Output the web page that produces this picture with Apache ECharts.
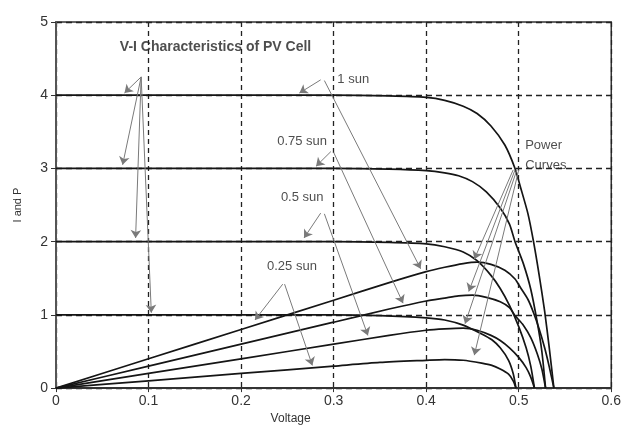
<!DOCTYPE html>
<html>
<head>
<meta charset="utf-8">
<script src="https://cdn.jsdelivr.net/npm/echarts@6/dist/echarts.min.js"></script>
<style>
  html, body { margin: 0; padding: 0; background: #fff; }
  #chart { width: 624px; height: 430px; }
</style>
</head>
<body>
<div id="chart"></div>
<script>
  // V-I curves and power curves
  var v100 = [0, 0.1, 0.2, 0.3, 0.36, 0.4, 0.42, 0.44, 0.455, 0.47, 0.485, 0.496, 0.502, 0.51, 0.516, 0.522, 0.528, 0.533, 0.538];
  var i100 = [4, 4, 4, 4, 3.99, 3.97, 3.93, 3.85, 3.75, 3.58, 3.32, 3.0, 2.74, 2.38, 2.0, 1.55, 1.05, 0.55, 0];
  var p100 = [0, 0.4, 0.8, 1.2, 1.44, 1.59, 1.65, 1.70, 1.72, 1.69, 1.61, 1.49, 1.37, 1.21, 1.03, 0.81, 0.55, 0.29, 0];

  var v75 = [0, 0.1, 0.2, 0.3, 0.36, 0.4, 0.42, 0.435, 0.45, 0.465, 0.48, 0.49, 0.496, 0.505, 0.513, 0.52, 0.525, 0.529];
  var i75 = [3, 3, 3, 3, 2.99, 2.97, 2.94, 2.9, 2.82, 2.68, 2.46, 2.24, 2.0, 1.7, 1.35, 0.9, 0.5, 0];
  var p75 = [0, 0.3, 0.6, 0.9, 1.08, 1.19, 1.23, 1.26, 1.27, 1.24, 1.18, 1.10, 0.99, 0.86, 0.69, 0.47, 0.26, 0];

  var v50 = [0, 0.1, 0.2, 0.3, 0.36, 0.4, 0.42, 0.44, 0.455, 0.47, 0.48, 0.49, 0.5, 0.508, 0.513, 0.517];
  var i50 = [2, 2, 2, 2, 1.99, 1.97, 1.93, 1.86, 1.74, 1.54, 1.36, 1.13, 0.84, 0.55, 0.3, 0];
  var p50 = [0, 0.2, 0.4, 0.6, 0.72, 0.79, 0.81, 0.82, 0.79, 0.72, 0.65, 0.55, 0.42, 0.28, 0.15, 0];

  var v25 = [0, 0.1, 0.2, 0.3, 0.35, 0.4, 0.42, 0.44, 0.46, 0.471, 0.48, 0.489, 0.494, 0.497];
  var i25 = [1, 1, 1, 1, 0.99, 0.96, 0.93, 0.86, 0.74, 0.66, 0.55, 0.38, 0.2, 0];
  var p25 = [0, 0.1, 0.2, 0.3, 0.35, 0.38, 0.39, 0.38, 0.34, 0.31, 0.26, 0.19, 0.10, 0];

  var xTicks = ['0', '0.1', '0.2', '0.3', '0.4', '0.5', '0.6'];
  var yTicks = ['0', '1', '2', '3', '4', '5'];

  // annotation labels [v, i, text, bold]
  var notes = [
    [0.069, 4.66, 'V-I Characteristics of PV Cell', true],
    [0.304, 4.21, '1 sun', false],
    [0.239, 3.37, '0.75 sun', false],
    [0.243, 2.60, '0.5 sun', false],
    [0.228, 1.66, '0.25 sun', false],
    [0.507, 3.18, 'Power\nCurves', false]
  ];

  // arrows: from [v, i] to [v, i]
  var arrowFrom = [
    [0.092, 4.25], [0.092, 4.25], [0.092, 4.25], [0.092, 4.25],
    [0.286, 4.21], [0.29, 4.20],
    [0.297, 3.23], [0.30, 3.22],
    [0.286, 2.39], [0.29, 2.38],
    [0.245, 1.42], [0.247, 1.42],
    [0.494, 2.98], [0.496, 2.98], [0.498, 2.98], [0.500, 2.98]
  ];
  var arrowTo = [
    [0.074, 4.03], [0.072, 3.05], [0.086, 2.05], [0.103, 1.03],
    [0.263, 4.03], [0.394, 1.63],
    [0.281, 3.03], [0.375, 1.16],
    [0.268, 2.05], [0.337, 0.72],
    [0.215, 0.93], [0.277, 0.31],
    [0.452, 1.76], [0.446, 1.32], [0.442, 0.88], [0.452, 0.45]
  ];

  function zip(xs, ys) {
    return xs.map(function (x, k) { return [x, ys[k]]; });
  }

  var font = 'Liberation Sans, Arial, sans-serif';
  var curve = {
    type: 'line',
    showSymbol: false,
    symbol: 'none',
    smooth: 0.25,
    silent: true,
    lineStyle: { color: '#151515', width: 1.7 },
    z: 3
  };

  var curves = [
    [v100, i100], [v100, p100],
    [v75, i75], [v75, p75],
    [v50, i50], [v50, p50],
    [v25, i25], [v25, p25]
  ];

  var series = curves.map(function (c) {
    return Object.assign({}, curve, { data: zip(c[0], c[1]) });
  });

  series.push({
    type: 'scatter',
    symbolSize: 0,
    silent: true,
    clip: false,
    z: 5,
    data: notes.map(function (n) {
      return {
        value: [n[0], n[1]],
        label: {
          show: true,
          position: 'inside',
          align: 'left',
          verticalAlign: 'middle',
          formatter: n[2],
          fontFamily: font,
          fontSize: n[3] ? 14 : 13,
          fontWeight: n[3] ? 'bold' : 'normal',
          color: '#222',
          lineHeight: 20
        }
      };
    }),
    markLine: {
      silent: true,
      symbol: ['none', 'arrow'],
      symbolSize: 8,
      animation: false,
      label: { show: false },
      lineStyle: { color: '#7a7a7a', width: 1, type: 'solid' },
      data: arrowFrom.map(function (a, k) {
        return [{ coord: a }, { coord: arrowTo[k] }];
      })
    }
  });

  var chart = echarts.init(document.getElementById('chart'));
  chart.setOption({
    animation: false,
    grid: {
      left: 56, right: 11, top: 22, bottom: 41,
      show: true, borderColor: '#333', borderWidth: 1.5
    },
    xAxis: {
      type: 'value',
      min: 0, max: 0.6, interval: 0.1,
      name: 'Voltage',
      nameLocation: 'middle',
      nameGap: 24,
      nameTextStyle: { fontFamily: font, fontSize: 12, color: '#333', padding: [0, 86, 0, 0] },
      axisLine: { lineStyle: { color: '#333', width: 2 } },
      axisTick: { show: true, length: 4, lineStyle: { color: '#333' } },
      axisLabel: {
        fontFamily: font, fontSize: 14, color: '#333', margin: 6,
        formatter: function (v) { return xTicks[Math.round(v * 10)]; }
      },
      splitLine: { show: true, lineStyle: { color: '#222', width: 1.3, type: [5, 4] } }
    },
    yAxis: {
      type: 'value',
      min: 0, max: 5, interval: 1,
      name: 'I and P',
      nameLocation: 'middle',
      nameGap: 33,
      nameTextStyle: { fontFamily: font, fontSize: 11, color: '#333' },
      axisLine: { show: true, lineStyle: { color: '#555', width: 2 } },
      axisTick: { show: true, length: 5, lineStyle: { color: '#333' } },
      axisLabel: {
        fontFamily: font, fontSize: 14, color: '#333', margin: 8,
        formatter: function (v) { return yTicks[Math.round(v)]; }
      },
      splitLine: { show: true, lineStyle: { color: '#222', width: 1.3, type: [6, 4] } }
    },
    series: series
  });
</script>
</body>
</html>
